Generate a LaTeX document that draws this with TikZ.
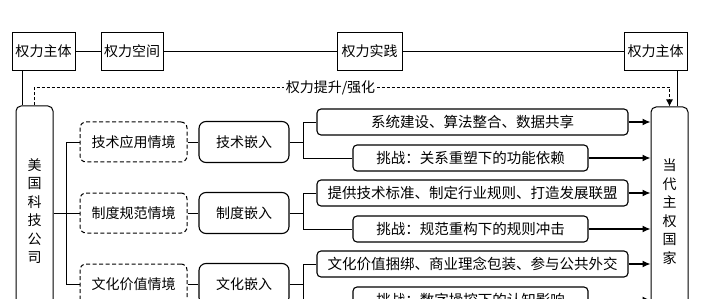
\documentclass[tikz,border=0pt]{standalone}
\usepackage{fontspec}
\newfontfamily\cjk{Noto Sans CJK SC}
\usetikzlibrary{arrows.meta,positioning}
\tikzset{
  stagebox/.style={draw,line width=0.8pt,minimum width=63pt,minimum height=38pt,inner sep=1pt,font=\cjk\fontsize{14}{16}\selectfont},
  actorbox/.style={draw,line width=1pt,rounded corners=5pt,minimum width=37pt,inner sep=1pt,align=center,font=\cjk\fontsize{14}{18.5}\selectfont},
  scenebox/.style={draw,line width=1pt,dash pattern=on 4pt off 2.5pt,rounded corners=6pt,minimum width=107pt,minimum height=40pt,inner sep=1pt,font=\cjk\fontsize{14}{16}\selectfont},
  embedbox/.style={draw,line width=1.1pt,rounded corners=7pt,minimum width=90pt,minimum height=41pt,inner sep=1pt,font=\cjk\fontsize{14}{16}\selectfont},
  resultbox/.style={draw,line width=1.1pt,rounded corners=4pt,minimum width=311pt,minimum height=26pt,inner sep=1pt,font=\cjk\fontsize{14.5}{16}\selectfont},
  challengebox/.style={resultbox,minimum width=235pt},
  linkline/.style={line width=0.9pt},
  flowarrow/.style={-{Latex[length=8pt,width=7pt]},line width=1.2pt},
  liftarrow/.style={-{Latex[length=7pt,width=7pt]},line width=0.9pt,dash pattern=on 3pt off 2pt},
  liftlabel/.style={fill=white,inner sep=2pt,font=\cjk\fontsize{14}{16}\selectfont}
}
\begin{document}
\begin{tikzpicture}[x=1pt,y=-1pt]
  \useasboundingbox (0,0) rectangle (703,299);
  \clip (0,0) rectangle (703,299);

  % Power chain along the top.
  \node[stagebox] (subjleft) at (43.5,51) {权力主体};
  \node[stagebox,minimum width=62pt] (space) at (132,51) {权力空间};
  \node[stagebox,minimum width=65pt] (practice) at (369.5,51) {权力实践};
  \node[stagebox] (subjright) at (655.5,51) {权力主体};
  \draw[linkline] (subjleft) -- (space);
  \draw[linkline] (space) -- (practice);
  \draw[linkline] (practice) -- (subjright);

  % Actors on both sides.
  \node[actorbox,minimum height=210pt] (firm) at (34.5,211)
    {美\\国\\科\\技\\公\\司};
  \node[actorbox,minimum height=209pt] (state) at (669.5,211.5)
    {当\\代\\主\\权\\国\\家};
  \draw[linkline] ([xshift=7pt]firm.north west) -- ([xshift=7pt]firm.north west |- subjleft.south);
  \draw[linkline] ([xshift=-11pt]state.north east) -- ([xshift=-11pt]state.north east |- subjright.south);

  % Feedback of power.
  \draw[liftarrow] (firm.north) -- ++(0,-18) -| (state.north);
  \node[liftlabel] (lift) at (330.5,88) {权力提升/强化};

  % Scenes and embedding.
  \node[scenebox] (scenetech) at (133.5,142) {技术应用情境};
  \node[scenebox] (scenerule) at (133.5,213) {制度规范情境};
  \node[scenebox] (sceneculture) at (133.5,284) {文化价值情境};
  \node[embedbox] (embedtech) at (244,142) {技术嵌入};
  \node[embedbox] (embedrule) at (244,213) {制度嵌入};
  \node[embedbox] (embedculture) at (244,284) {文化嵌入};

  \draw[linkline] (scenetech.west) -- ++(-13,0) |- (sceneculture.west);
  \draw[linkline] (firm.east |- scenerule.west) -- (scenerule.west);
  \draw[linkline] (scenetech) -- (embedtech);
  \draw[linkline] (scenerule) -- (embedrule);
  \draw[linkline] (sceneculture) -- (embedculture);

  % Outcomes and challenges.
  \node[resultbox] (restech) at (472.5,122) {系统建设、算法整合、数据共享};
  \node[challengebox] (chaltech) at (470.5,158) {挑战：关系重塑下的功能依赖};
  \node[resultbox] (resrule) at (472.5,193) {提供技术标准、制定行业规则、打造发展联盟};
  \node[challengebox] (chalrule) at (470.5,229) {挑战：规范重构下的规则冲击};
  \node[resultbox] (resculture) at (472.5,264) {文化价值捆绑、商业理念包装、参与公共外交};
  \node[challengebox] (chalculture) at (470.5,300) {挑战：数字操控下的认知影响};

  \draw[linkline] (embedtech.east) -- ++(14,0);
  \draw[linkline] (restech.west) -| ([xshift=14pt]embedtech.east) |- (chaltech.west);
  \draw[linkline] (embedrule.east) -- ++(14,0);
  \draw[linkline] (resrule.west) -| ([xshift=14pt]embedrule.east) |- (chalrule.west);
  \draw[linkline] (embedculture.east) -- ++(14,0);
  \draw[linkline] (resculture.west) -| ([xshift=14pt]embedculture.east) |- (chalculture.west);

  \draw[flowarrow] (restech.east) -- (restech.east -| state.west);
  \draw[flowarrow] (chaltech.east) -- (chaltech.east -| state.west);
  \draw[flowarrow] (resrule.east) -- (resrule.east -| state.west);
  \draw[flowarrow] (chalrule.east) -- (chalrule.east -| state.west);
  \draw[flowarrow] (resculture.east) -- (resculture.east -| state.west);
  \draw[flowarrow] (chalculture.east) -- (chalculture.east -| state.west);
\end{tikzpicture}
\end{document}
